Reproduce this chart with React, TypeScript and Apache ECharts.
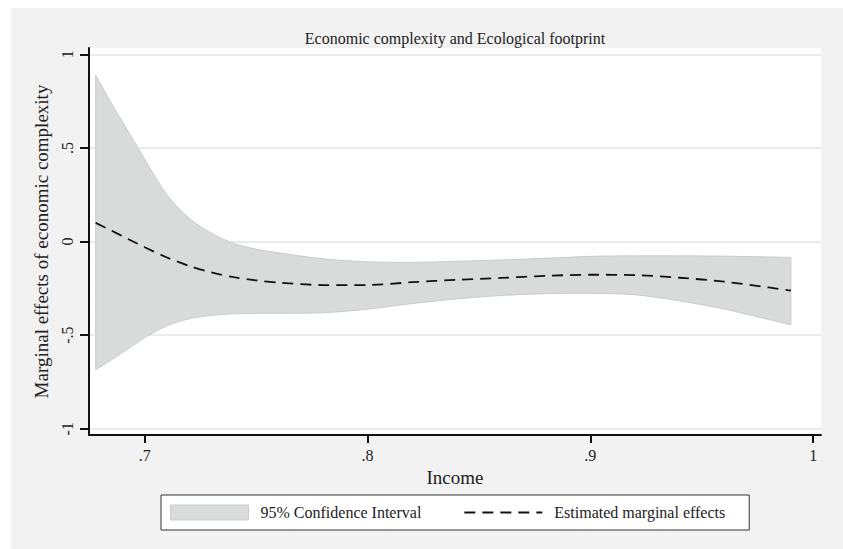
import React, { useEffect, useRef } from "react";
import * as echarts from "echarts";

const FONT = '"Liberation Serif", "Times New Roman", Times, serif';

// Income values (x)
const incomeValues = [0.678, 0.685, 0.69, 0.695, 0.70, 0.71, 0.72, 0.73, 0.74, 0.75, 0.76, 0.78, 0.80, 0.82, 0.84, 0.86, 0.88, 0.90, 0.92, 0.94, 0.96, 0.98, 0.99];
// Upper bound of the 95% confidence interval
const upperCI = [0.89, 0.74, 0.64, 0.54, 0.44, 0.25, 0.125, 0.045, -0.01, -0.04, -0.06, -0.092, -0.108, -0.111, -0.105, -0.098, -0.089, -0.079, -0.076, -0.076, -0.078, -0.082, -0.085];
// Lower bound of the 95% confidence interval
const lowerCI = [-0.685, -0.632, -0.593, -0.553, -0.513, -0.45, -0.412, -0.394, -0.386, -0.383, -0.383, -0.380, -0.361, -0.331, -0.306, -0.288, -0.278, -0.276, -0.284, -0.317, -0.360, -0.416, -0.445];
// Estimated marginal effects
const estimate = [0.10, 0.059, 0.029, -0.001, -0.030, -0.085, -0.13, -0.165, -0.19, -0.207, -0.219, -0.232, -0.232, -0.217, -0.204, -0.194, -0.183, -0.177, -0.179, -0.193, -0.214, -0.245, -0.262];

const xTicks = [0.7, 0.8, 0.9, 1];
const yTicks = [-1, -0.5, 0, 0.5, 1];

const titleText = "Economic complexity and Ecological footprint";
const xTitle = "Income";
const yTitle = "Marginal effects of economic complexity";
const ciName = "95% Confidence Interval";
const lineName = "Estimated marginal effects";

const fmt = (v: number) => {
  const s = String(+Number(v).toFixed(2));
  return s.replace(/^(-?)0\./, "$1.");
};

export default function App() {
  const ref = useRef<HTMLDivElement>(null);
  useEffect(() => {
    if (!ref.current) return;
    const chart = echarts.init(ref.current, null, { renderer: "svg" });
    const bandRows = incomeValues.map((x, i) => [x, lowerCI[i], upperCI[i]]);
    const lineData = incomeValues.map((x, i) => [x, estimate[i]]);
    const n = bandRows.length;
    chart.setOption({
      animation: false,
      backgroundColor: "#f2f2f2",
      textStyle: { fontFamily: FONT },
      grid: {
        left: 78,
        top: 40,
        width: 732,
        height: 387,
        show: true,
        backgroundColor: "#ffffff",
        borderWidth: 0,
        containLabel: false,
        outerBoundsMode: "none",
      },
      graphic: [
        {
          type: "text",
          x: 444,
          y: 30,
          style: {
            text: titleText,
            fontFamily: FONT,
            fontSize: 16,
            fill: "#222",
            align: "center",
            verticalAlign: "middle",
          },
        },
      ],
      legend: {
        left: 150,
        top: 487,
        orient: "horizontal",
        padding: [9.5, 24, 9.5, 9],
        itemWidth: 78,
        itemHeight: 15,
        itemGap: 42,
        backgroundColor: "#ffffff",
        borderColor: "#333",
        borderWidth: 1,
        borderRadius: 0,
        textStyle: { fontFamily: FONT, fontSize: 16, color: "#222", padding: [0, 0, 0, 7] },
        data: [
          { name: ciName, icon: "rect", itemStyle: { color: "#d9dada", borderColor: "#cbcccc", borderWidth: 1 } },
          { name: lineName, itemStyle: { opacity: 0, color: "transparent", borderWidth: 0 } },
        ],
      },
      xAxis: {
        type: "value",
        min: 0.675,
        max: 1.0035,
        name: xTitle,
        nameLocation: "middle",
        nameGap: 21,
        nameTextStyle: { fontFamily: FONT, fontSize: 19, color: "#222" },
        axisLine: { show: true, onZero: false, lineStyle: { color: "#111", width: 2 } },
        axisTick: { show: true, customValues: xTicks, length: 8, lineStyle: { color: "#111", width: 2 } },
        axisLabel: {
          customValues: xTicks,
          formatter: (v: number) => fmt(v),
          fontFamily: FONT,
          fontSize: 16,
          color: "#222",
          margin: 12,
        },
        splitLine: { show: false },
      },
      yAxis: {
        type: "value",
        min: -1.033,
        max: 1.034,
        name: yTitle,
        nameLocation: "middle",
        nameGap: 24,
        nameRotate: 90,
        nameTextStyle: { fontFamily: FONT, fontSize: 19, color: "#222" },
        axisLine: { show: true, onZero: false, lineStyle: { color: "#111", width: 2 } },
        axisTick: { show: true, customValues: yTicks, length: 9, lineStyle: { color: "#111", width: 2 } },
        axisLabel: {
          customValues: yTicks,
          formatter: (v: number) => fmt(v),
          rotate: 90,
          fontFamily: FONT,
          fontSize: 16,
          color: "#222",
          margin: 14,
        },
        splitLine: { show: true, lineStyle: { color: "#ebebeb", width: 2 } },
      },
      series: [
        {
          name: ciName,
          type: "custom",
          data: bandRows,
          encode: { x: 0, y: [1, 2] },
          itemStyle: { color: "#d9dada" },
          clip: true,
          z: 1,
          renderItem: (params: any, api: any) => {
            if (params.dataIndex !== 0) return null;
            const top: number[][] = [];
            const bot: number[][] = [];
            for (let i = 0; i < n; i++) {
              const x = api.value(0, i);
              top.push(api.coord([x, api.value(2, i)]));
              bot.push(api.coord([x, api.value(1, i)]));
            }
            bot.reverse();
            const pts: number[][] = [];
            // duplicate the four corners so that the vertical ends stay straight
            pts.push(top[0]);
            top.forEach((p) => pts.push(p));
            pts.push(top[n - 1]);
            pts.push(bot[0]);
            bot.forEach((p) => pts.push(p));
            pts.push(bot[n - 1]);
            return {
              type: "polygon",
              shape: { points: pts, smooth: 0.3 },
              style: { fill: "#d9dada", stroke: "#cbcccc", lineWidth: 1 },
            };
          },
        },
        {
          name: lineName,
          type: "line",
          data: lineData,
          symbol: "none",
          smooth: 0.3,
          lineStyle: { color: "#111", width: 1.8, type: [11, 7] },
          itemStyle: { color: "#111" },
          z: 3,
        },
      ],
    });
    return () => chart.dispose();
  }, []);
  return (
    <div
      ref={ref}
      style={{ position: "absolute", left: 11, top: 8, width: 832, height: 541 }}
    />
  );
}
